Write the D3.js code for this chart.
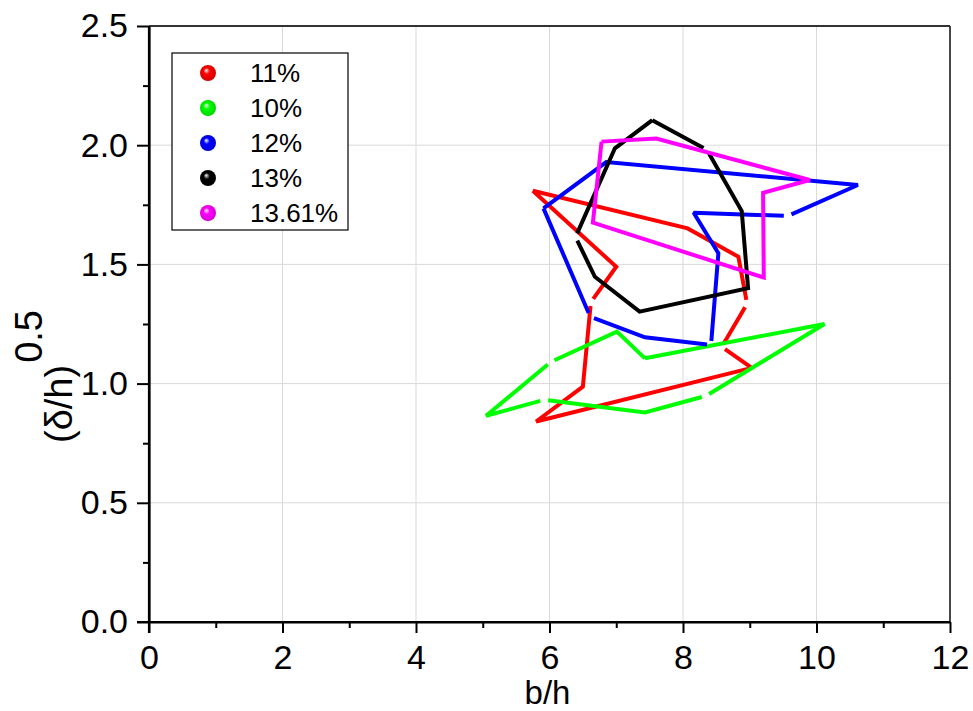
<!DOCTYPE html>
<html><head><meta charset="utf-8">
<script src="https://cdn.jsdelivr.net/npm/d3@7"></script>
<style>
html,body{margin:0;padding:0;background:#fff;}
text{font-family:"Liberation Sans",Arial,Helvetica,sans-serif;fill:#000;}
</style></head>
<body>
<svg id="chart" width="973" height="711"></svg>
<script>
// ---- data ----
const seriesNames = ["11%", "10%", "12%", "13%", "13.61%"];
const seriesColors = ["#ff0000", "#00ff00", "#0000ff", "#000000", "#ff00ff"];

const red_x = [5.75, 8.07, 8.83, 8.96, 8.58, 9.03, 5.80, 6.50, 6.62, 7.00, 5.75];
const red_y = [1.809, 1.651, 1.532, 1.335, 1.154, 1.066, 0.841, 0.987, 1.342, 1.490, 1.809];
const red_gaps = [3, 4, 8];

const green_x = [7.43, 7.01, 6.02, 5.05, 5.92, 7.43, 8.34, 10.12, 7.43];
const green_y = [1.106, 1.218, 1.091, 0.865, 0.932, 0.879, 0.948, 1.250, 1.106];
const green_gaps = [2, 4, 6];

const blue_x = [5.91, 6.85, 10.62, 9.57, 8.16, 8.53, 8.42, 7.43, 6.61, 5.91];
const blue_y = [1.735, 1.929, 1.833, 1.703, 1.717, 1.547, 1.162, 1.194, 1.281, 1.735];
const blue_gaps = [3, 6, 8];

const black_x = [7.54, 8.36, 8.88, 8.975, 7.35, 6.68, 6.39, 6.98, 7.54];
const black_y = [2.105, 1.980, 1.724, 1.400, 1.302, 1.448, 1.615, 1.987, 2.105];
const black_gaps = [1, 6];

const magenta_x = [6.78, 7.60, 9.90, 9.20, 9.21, 6.65, 6.78];
const magenta_y = [2.015, 2.028, 1.854, 1.800, 1.445, 1.675, 2.015];
const magenta_gaps = [];

const xTicks = [0, 2, 4, 6, 8, 10, 12];
const xMinor = [1, 3, 5, 7, 9, 11];
const yTicks = [0.0, 0.5, 1.0, 1.5, 2.0, 2.5];
const yMinor = [0.25, 0.75, 1.25, 1.75, 2.25];
const xLabel = "b/h";
const yLabelMain = "(δ/h)";
const yLabelSup = "0.5";

const seriesX = [red_x, green_x, blue_x, black_x, magenta_x];
const seriesY = [red_y, green_y, blue_y, black_y, magenta_y];
const seriesGaps = [red_gaps, green_gaps, blue_gaps, black_gaps, magenta_gaps];

// ---- layout ----
const svg = d3.select("#chart");
const L = 149, R = 950, T = 26, B = 622;
const x = d3.scaleLinear().domain([0, 12]).range([L, R]);
const y = d3.scaleLinear().domain([0, 2.5]).range([B, T]);

// grid
const grid = svg.append("g");
grid.selectAll("line.gx").data(xTicks.filter(v => v > 0 && v < 12)).enter().append("line")
  .attr("x1", d => x(d)).attr("x2", d => x(d)).attr("y1", T).attr("y2", B)
  .attr("stroke", "#d9d9d9").attr("stroke-width", 1);
grid.selectAll("line.gy").data(yTicks.filter(v => v > 0 && v < 2.5)).enter().append("line")
  .attr("y1", d => y(d)).attr("y2", d => y(d)).attr("x1", L).attr("x2", R)
  .attr("stroke", "#d9d9d9").attr("stroke-width", 1);

// legend box background (covers gridlines)
const lg = svg.append("g");
lg.append("rect").attr("x", 172).attr("y", 53).attr("width", 176).attr("height", 177)
  .attr("fill", "#fff").attr("stroke", "#000").attr("stroke-width", 1.2);

// frame top/right
svg.append("line").attr("x1", L).attr("x2", R).attr("y1", T).attr("y2", T)
  .attr("stroke", "#333").attr("stroke-width", 1.8);
svg.append("line").attr("x1", R).attr("x2", R).attr("y1", T).attr("y2", B)
  .attr("stroke", "#333").attr("stroke-width", 1.8);

// series
const gap = 4;
seriesX.forEach((xs, si) => {
  const pts = xs.map((v, i) => [x(v), y(seriesY[si][i])]);
  const gaps = new Set(seriesGaps[si]);
  const isGap = i => gaps.has(i);
  let dStr = "";
  let open = false;
  for (let i = 0; i < pts.length - 1; i++) {
    let [x0, y0] = pts[i], [x1, y1] = pts[i + 1];
    const len = Math.hypot(x1 - x0, y1 - y0);
    const ux = (x1 - x0) / len, uy = (y1 - y0) / len;
    let sx = x0, sy = y0, ex = x1, ey = y1;
    if (isGap(i)) { sx += ux * gap; sy += uy * gap; }
    if (isGap(i + 1)) { ex -= ux * gap; ey -= uy * gap; }
    if (!open) { dStr += `M${sx},${sy}`; open = true; }
    dStr += `L${ex},${ey}`;
    if (isGap(i + 1)) open = false;
  }
  svg.append("path").attr("d", dStr).attr("fill", "none")
    .attr("stroke", seriesColors[si]).attr("stroke-width", 4)
    .attr("stroke-linejoin", "miter").attr("stroke-miterlimit", 2);
});

// axes
const fs = 34;
const ax = svg.append("g").attr("transform", `translate(0,${B})`)
  .call(d3.axisBottom(x).tickValues(xTicks).tickFormat(d3.format("d")).tickSizeOuter(0).tickSizeInner(11).tickPadding(12));
const axm = svg.append("g").attr("transform", `translate(0,${B})`)
  .call(d3.axisBottom(x).tickValues(xMinor).tickFormat("").tickSizeOuter(0).tickSizeInner(6));
const ay = svg.append("g").attr("transform", `translate(${L},0)`)
  .call(d3.axisLeft(y).tickValues(yTicks).tickFormat(d3.format(".1f")).tickSizeOuter(0).tickSizeInner(12).tickPadding(9));
const aym = svg.append("g").attr("transform", `translate(${L},0)`)
  .call(d3.axisLeft(y).tickValues(yMinor).tickFormat("").tickSizeOuter(0).tickSizeInner(6));
[ax, axm, ay, aym].forEach(g => {
  g.select(".domain").attr("stroke", "#000").attr("stroke-width", 2.2);
  g.selectAll(".tick line").attr("stroke", "#000").attr("stroke-width", 2);
  g.selectAll("text").attr("font-size", fs).attr("font-family", '"Liberation Sans",Arial,sans-serif').attr("fill", "#000");
});
ax.select(".domain").attr("d", `M${L - 12},0H${R}`);
ay.select(".domain").attr("d", `M0,${B + 11}V${T}`);

// axis titles
svg.append("text").attr("x", (L + R) / 2 - 2).attr("y", 703.5).attr("text-anchor", "middle")
  .attr("font-size", 33).text(xLabel);
const yt = svg.append("text").attr("transform", "translate(72,443) rotate(-90)")
  .attr("font-size", 38);
yt.append("tspan").text(yLabelMain);
yt.append("tspan").attr("dy", -30).attr("dx", 2).text(yLabelSup);

// legend
const defs = svg.append("defs");
seriesNames.forEach((name, i) => {
  const gid = "ball" + i;
  const rg = defs.append("radialGradient").attr("id", gid)
    .attr("cx", "50%").attr("cy", "50%").attr("r", "55%").attr("fx", "38%").attr("fy", "32%");
  rg.append("stop").attr("offset", "0%").attr("stop-color", "#fff");
  rg.append("stop").attr("offset", "35%").attr("stop-color", seriesColors[i]);
  rg.append("stop").attr("offset", "100%").attr("stop-color", d3.color(seriesColors[i]).darker(0.6));
  const cy = 73 + i * 35;
  lg.append("circle").attr("cx", 208).attr("cy", cy).attr("r", 8).attr("fill", `url(#${gid})`);
  lg.append("text").attr("x", 250).attr("y", cy + 9).attr("font-size", 26).text(name);
});
</script>
</body></html>
